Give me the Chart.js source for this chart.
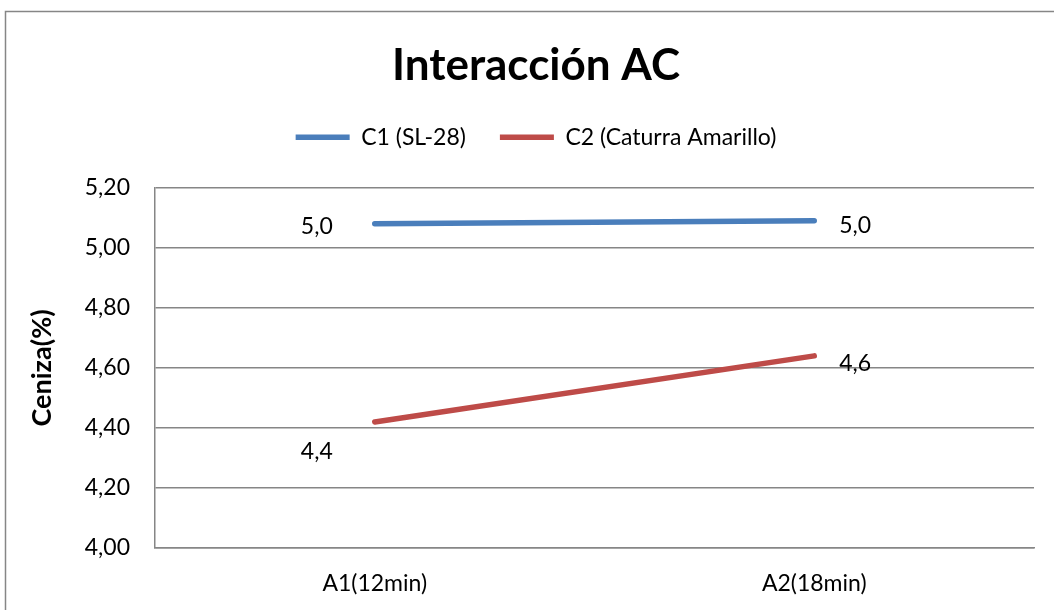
<!DOCTYPE html>
<html>
<head>
<meta charset="utf-8">
<script src="https://cdn.jsdelivr.net/npm/chart.js@4/dist/chart.umd.min.js"></script>
<style>
  html, body { margin: 0; padding: 0; background: #ffffff; }
  #wrap { width: 1054px; height: 610px; position: relative; }
</style>
</head>
<body>
<div id="wrap"><canvas id="chart" width="1054" height="610"></canvas></div>
<script>
// Ash content (%) by time level A and variety C
const categories = ['A1(12min)', 'A2(18min)'];
const seriesNames = ['C1 (SL-28)', 'C2 (Caturra Amarillo)'];
const c1Values = [5.08, 5.09];
const c2Values = [4.42, 4.64];
const yTickValues = [4.00, 4.20, 4.40, 4.60, 4.80, 5.00, 5.20];

const FONT = 'Lato, "Open Sans", "Liberation Sans", sans-serif';
const GRID = '#868686';

const decimalComma = (v, d) => v.toFixed(d).replace('.', ',');
// point labels show the value cut to one decimal
const oneDecimal = v => decimalComma(Math.floor(v * 10 + 1e-9) / 10, 1);

// Frame around the chart and white background
const framePlugin = {
  id: 'frame',
  beforeDraw(chart) {
    const ctx = chart.ctx;
    ctx.save();
    ctx.fillStyle = '#ffffff';
    ctx.fillRect(0, 0, chart.width, chart.height);
    ctx.strokeStyle = GRID;
    ctx.lineWidth = 1.5;
    ctx.beginPath();
    ctx.moveTo(5.5, chart.height);
    ctx.lineTo(5.5, 11.5);
    ctx.lineTo(chart.width, 11.5);
    ctx.stroke();
    ctx.restore();
  }
};

// Value labels beside each point
const pointLabelPlugin = {
  id: 'pointLabels',
  afterDatasetsDraw(chart, args, opts) {
    const ctx = chart.ctx;
    ctx.save();
    ctx.font = '23px ' + FONT;
    ctx.fillStyle = '#000000';
    ctx.textBaseline = 'middle';
    chart.data.datasets.forEach((ds, i) => {
      const meta = chart.getDatasetMeta(i);
      meta.data.forEach((pt, j) => {
        const place = opts.place[i][j];
        ctx.textAlign = place.align;
        ctx.fillText(oneDecimal(ds.data[j]), pt.x + place.dx, pt.y + place.dy);
      });
    });
    ctx.restore();
  }
};

new Chart(document.getElementById('chart'), {
  type: 'line',
  data: {
    labels: categories,
    datasets: [
      {
        label: seriesNames[0],
        data: c1Values,
        borderColor: '#4A7EBB',
        backgroundColor: '#4A7EBB',
        borderWidth: 5.5,
        borderCapStyle: 'round',
        pointRadius: 0,
        pointHoverRadius: 0,
        tension: 0
      },
      {
        label: seriesNames[1],
        data: c2Values,
        borderColor: '#BE4B48',
        backgroundColor: '#BE4B48',
        borderWidth: 5.5,
        borderCapStyle: 'round',
        pointRadius: 0,
        pointHoverRadius: 0,
        tension: 0
      }
    ]
  },
  options: {
    responsive: false,
    devicePixelRatio: 1,
    animation: false,
    events: [],
    layout: { padding: { left: 38, right: 20, top: 0, bottom: 0 } },
    plugins: {
      title: {
        display: true,
        text: 'Interacción AC',
        color: '#000000',
        font: { family: FONT, size: 44, weight: 'bold', lineHeight: 1.2 },
        padding: { top: 39, bottom: 0 }
      },
      subtitle: {
        display: true,
        text: '',
        weight: 500,
        font: { size: 1, lineHeight: 1 },
        padding: { top: 0, bottom: 28 }
      },
      legend: {
        display: true,
        position: 'top',
        labels: {
          usePointStyle: true,
          pointStyle: 'line',
          pointStyleWidth: 54,
          boxHeight: 22,
          padding: 34,
          color: '#000000',
          font: { family: FONT, size: 23 }
        }
      },
      tooltip: { enabled: false },
      pointLabels: {
        place: [
          [ { align: 'right', dx: -42, dy: 3 }, { align: 'left', dx: 25, dy: 5 } ],
          [ { align: 'right', dx: -42, dy: 30 }, { align: 'left', dx: 25, dy: 8 } ]
        ]
      }
    },
    scales: {
      x: {
        offset: true,
        grid: { display: false, drawTicks: false },
        border: { display: true, color: GRID, width: 1.5 },
        ticks: { color: '#000000', padding: 22, font: { family: FONT, size: 23 } },
        afterFit(scale) { scale.height = 62; }
      },
      y: {
        min: 4.0,
        max: 5.2,
        afterBuildTicks(scale) { scale.ticks = yTickValues.map(v => ({ value: v })); },
        grid: { color: GRID, lineWidth: 1.5, drawTicks: false },
        border: { display: true, color: GRID, width: 1.5 },
        ticks: {
          color: '#000000',
          padding: 25,
          font: { family: FONT, size: 23 },
          callback: v => decimalComma(v, 2)
        },
        title: {
          display: true,
          text: 'Ceniza(%)',
          color: '#000000',
          font: { family: FONT, size: 27, weight: 'bold', lineHeight: 1.2 },
          padding: { top: -12, bottom: 0 }
        },
        afterFit(scale) { scale.width = 117; }
      }
    }
  },
  plugins: [framePlugin, pointLabelPlugin]
});
</script>
</body>
</html>
